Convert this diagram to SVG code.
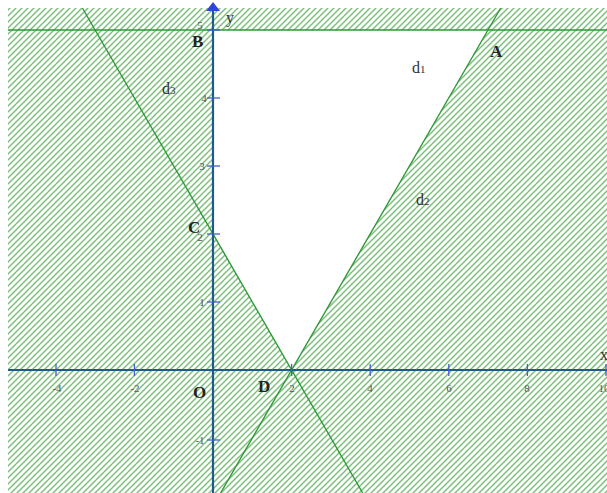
<svg xmlns="http://www.w3.org/2000/svg" width="607" height="493" viewBox="0 0 607 493">
<style>
.grn{stroke:#2e9a36;stroke-width:1.4;fill:none}
.ax{stroke:#1f5a8c;stroke-width:2.2;fill:none}
.tk{stroke:#3f5fd0;stroke-width:1.3}
.lbl{font-family:"Liberation Serif",serif;font-size:17px;font-weight:bold;fill:#222}
.dl{font-family:"Liberation Serif",serif;font-size:16px;fill:#333}
.sub{font-size:11px}
.num{font-family:"Liberation Serif",serif;font-size:11px;fill:#555}
</style>
<defs>
<pattern id="hatch" patternUnits="userSpaceOnUse" width="6" height="6">
<path d="M-1,1 L1,-1 M0,6 L6,0 M5,7 L7,5" stroke="#7fbf7e" stroke-width="1.5"/>
</pattern>
</defs>
<rect width="607" height="493" fill="#fff"/>
<g id="region">
<path d="M8,8 H607 V493 H8 Z M213,30 L488,30 L291.6,370 L213,234 Z" fill="url(#hatch)" fill-rule="evenodd"/>
</g>
<g id="connectors">
<line id="d1" class="grn" x1="8" y1="30" x2="607" y2="30"/>
<line id="d2" class="grn" x1="220.6" y1="493" x2="500.7" y2="8"/>
<line id="d3" class="grn" x1="82.4" y1="8" x2="362.7" y2="493"/>
</g>
<g id="axes">
<line class="ax" x1="8" y1="370" x2="607" y2="370"/>
<line class="ax" x1="213" y1="493" x2="213" y2="8"/>
<path d="M206,11 L213,2 L220,11 Z" fill="#2f45d8"/>
<g class="tk">
<line x1="56" y1="364" x2="56" y2="376"/>
<line x1="134.4" y1="364" x2="134.4" y2="376"/>
<line x1="291.6" y1="364" x2="291.6" y2="376"/>
<line x1="370.2" y1="364" x2="370.2" y2="376"/>
<line x1="448.8" y1="364" x2="448.8" y2="376"/>
<line x1="527.4" y1="364" x2="527.4" y2="376"/>
<line x1="606" y1="364" x2="606" y2="376"/>
<line x1="207" y1="30" x2="220" y2="30"/>
<line x1="207" y1="98" x2="220" y2="98"/>
<line x1="207" y1="166" x2="220" y2="166"/>
<line x1="207" y1="234" x2="220" y2="234"/>
<line x1="207" y1="302" x2="220" y2="302"/>
<line x1="207" y1="440" x2="220" y2="440"/>
</g>
<g class="num">
<text x="57" y="392" text-anchor="middle">-4</text>
<text x="135" y="392" text-anchor="middle">-2</text>
<text x="292" y="392" text-anchor="middle">2</text>
<text x="370" y="392" text-anchor="middle">4</text>
<text x="449" y="392" text-anchor="middle">6</text>
<text x="527" y="392" text-anchor="middle">8</text>
<text x="604" y="392" text-anchor="middle">10</text>
<text x="200" y="29" text-anchor="middle">5</text>
<text x="204" y="102" text-anchor="middle">4</text>
<text x="202" y="170" text-anchor="middle">3</text>
<text x="200" y="241" text-anchor="middle">2</text>
<text x="202" y="306" text-anchor="middle">1</text>
<text x="200" y="444" text-anchor="middle">-1</text>
</g>
<text class="dl" x="226" y="23">y</text>
<text class="dl" x="600" y="360">x</text>
</g>
<g id="A"><text class="lbl" x="490" y="57">A</text></g>
<g id="B"><text class="lbl" x="192" y="47">B</text></g>
<g id="C"><text class="lbl" x="188" y="233">C</text></g>
<g id="D"><text class="lbl" x="258" y="392">D</text></g>
<g id="O"><text class="lbl" x="193" y="398">O</text></g>
<g id="d1-label"><text class="dl" x="412" y="73">d<tspan class="sub">1</tspan></text></g>
<g id="d2-label"><text class="dl" x="416" y="205">d<tspan class="sub">2</tspan></text></g>
<g id="d3-label"><text class="dl" x="162" y="94">d<tspan class="sub">3</tspan></text></g>
</svg>
